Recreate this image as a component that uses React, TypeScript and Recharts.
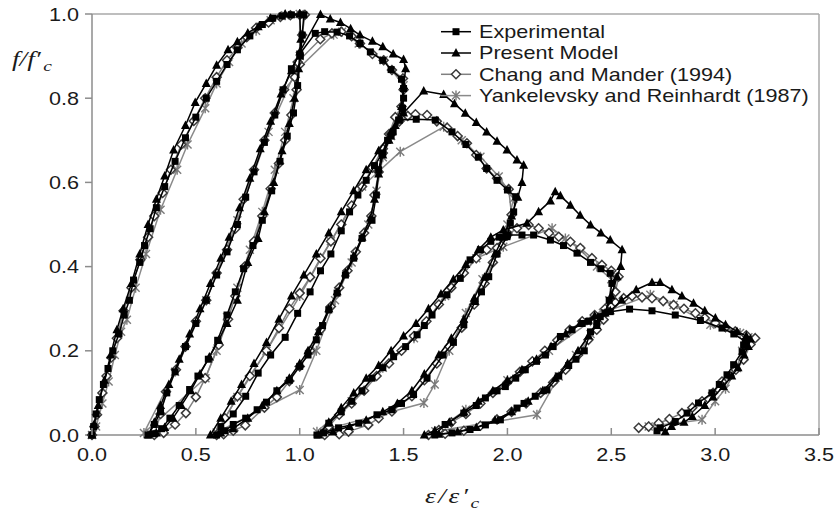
import React from "react";
import {
  ScatterChart,
  Scatter,
  XAxis,
  YAxis,
  Legend,
  ReferenceLine,
  Label,
} from "recharts";

type Pt = [number, number];

const xTicks = [0, 0.5, 1, 1.5, 2, 2.5, 3, 3.5];
const yTicks = [0, 0.2, 0.4, 0.6, 0.8, 1];

const seriesNames = [
  "Experimental",
  "Present Model",
  "Chang and Mander (1994)",
  "Yankelevsky and Reinhardt (1987)",
];

// strain ratio / stress ratio, one continuous path per curve (envelope + unload/reload cycles)
const experimental: Pt[] = [
  [0, 0], [0.008, 0.02], [0.02, 0.05], [0.035, 0.084], [0.055, 0.12], [0.077, 0.158], [0.1, 0.2], [0.13, 0.24],
  [0.155, 0.285], [0.18, 0.32], [0.2, 0.368], [0.23, 0.41], [0.253, 0.45], [0.28, 0.49], [0.31, 0.54], [0.35, 0.59],
  [0.4, 0.65], [0.45, 0.706], [0.5, 0.755], [0.55, 0.8], [0.6, 0.84], [0.65, 0.88], [0.7, 0.915], [0.76, 0.948],
  [0.82, 0.975], [0.87, 0.99], [0.915, 0.995], [0.96, 0.998], [1.02, 0.998],
  [1.012, 0.95], [1.003, 0.9], [0.99, 0.83], [0.97, 0.765], [0.94, 0.71], [0.905, 0.65], [0.865, 0.58], [0.82, 0.51],
  [0.775, 0.45], [0.73, 0.395], [0.69, 0.34], [0.65, 0.285], [0.605, 0.225], [0.56, 0.18], [0.51, 0.14], [0.47, 0.108],
  [0.42, 0.07], [0.375, 0.04], [0.335, 0.015], [0.3, 0.003], [0.27, 0],
  [0.3, 0.025], [0.33, 0.055], [0.36, 0.1], [0.4, 0.15], [0.45, 0.21], [0.5, 0.265], [0.55, 0.32], [0.6, 0.38],
  [0.65, 0.435], [0.7, 0.5], [0.74, 0.565], [0.78, 0.625], [0.83, 0.695], [0.88, 0.76], [0.92, 0.82], [0.96, 0.87],
  [1.0, 0.905], [1.075, 0.954],
  [1.12, 0.958], [1.18, 0.957], [1.24, 0.948], [1.29, 0.93], [1.34, 0.91], [1.4, 0.89], [1.44, 0.868], [1.49, 0.845], [1.5, 0.823],
  [1.5, 0.8], [1.495, 0.776], [1.476, 0.748], [1.45, 0.72], [1.423, 0.7], [1.396, 0.669], [1.38, 0.63], [1.369, 0.57],
  [1.348, 0.51], [1.3, 0.467], [1.26, 0.42], [1.22, 0.38], [1.18, 0.337], [1.14, 0.297], [1.11, 0.26], [1.08, 0.226],
  [1.04, 0.19], [1.0, 0.163], [0.95, 0.13], [0.89, 0.105], [0.84, 0.078], [0.795, 0.06], [0.74, 0.04], [0.68, 0.025],
  [0.64, 0.01], [0.6, 0],
  [0.62, 0.02], [0.68, 0.05], [0.74, 0.092], [0.8, 0.147], [0.86, 0.19], [0.93, 0.232], [0.99, 0.289], [1.05, 0.34],
  [1.1, 0.39], [1.15, 0.43], [1.2, 0.485], [1.24, 0.53], [1.28, 0.57], [1.32, 0.605], [1.36, 0.64], [1.4, 0.67],
  [1.44, 0.71], [1.48, 0.748],
  [1.561, 0.75], [1.653, 0.748], [1.733, 0.72], [1.8, 0.69], [1.86, 0.66], [1.9, 0.633], [1.95, 0.605], [2.0, 0.582], [2.04, 0.566],
  [2.03, 0.53], [2.014, 0.503], [1.998, 0.471], [1.95, 0.43], [1.91, 0.376], [1.875, 0.34], [1.845, 0.317], [1.79, 0.262],
  [1.74, 0.22], [1.69, 0.19], [1.613, 0.135], [1.548, 0.096], [1.49, 0.075], [1.444, 0.06], [1.372, 0.048], [1.284, 0.028],
  [1.187, 0.017], [1.115, 0.005], [1.083, 0],
  [1.14, 0.028], [1.2, 0.055], [1.25, 0.08], [1.3, 0.105], [1.348, 0.135], [1.4, 0.16], [1.452, 0.186], [1.51, 0.21],
  [1.565, 0.238], [1.6, 0.26], [1.637, 0.285], [1.709, 0.333], [1.773, 0.372], [1.82, 0.416], [1.87, 0.44], [1.92, 0.46],
  [1.96, 0.47], [2.0, 0.475],
  [2.07, 0.475], [2.126, 0.475], [2.207, 0.463], [2.27, 0.45], [2.335, 0.432], [2.4, 0.41], [2.45, 0.395], [2.495, 0.384], [2.503, 0.36],
  [2.49, 0.32], [2.47, 0.29], [2.43, 0.265], [2.4, 0.245], [2.37, 0.2], [2.33, 0.18], [2.295, 0.165], [2.247, 0.14],
  [2.19, 0.107], [2.134, 0.092], [2.08, 0.075], [2.046, 0.064], [1.966, 0.036], [1.894, 0.024], [1.82, 0.013], [1.733, 0.005], [1.65, 0],
  [1.7, 0.025], [1.79, 0.052], [1.85, 0.07], [1.894, 0.088], [1.95, 0.105], [1.99, 0.115], [2.04, 0.135], [2.086, 0.155],
  [2.14, 0.175], [2.183, 0.19], [2.22, 0.21], [2.255, 0.234], [2.311, 0.25], [2.36, 0.265], [2.39, 0.27], [2.447, 0.281], [2.495, 0.293],
  [2.588, 0.299], [2.696, 0.295], [2.808, 0.285], [2.929, 0.272], [3.033, 0.254], [3.09, 0.24], [3.145, 0.222],
  [3.137, 0.214], [3.13, 0.198], [3.089, 0.167], [3.057, 0.143], [3.02, 0.12], [2.985, 0.1], [2.92, 0.076], [2.865, 0.052],
  [2.808, 0.032], [2.736, 0.017], [2.72, 0.01],
];

const presentModel: Pt[] = [
  [0, 0], [0.01, 0.025], [0.03, 0.07], [0.06, 0.13], [0.09, 0.19], [0.12, 0.25], [0.15, 0.3], [0.19, 0.36], [0.23, 0.43],
  [0.27, 0.5], [0.31, 0.56], [0.35, 0.615], [0.393, 0.677], [0.45, 0.735], [0.497, 0.79], [0.55, 0.835], [0.6, 0.878],
  [0.655, 0.915], [0.7, 0.934], [0.75, 0.955], [0.8, 0.97], [0.86, 0.99], [0.93, 1.0], [1.0, 1.0],
  [1.005, 0.94], [0.995, 0.87], [0.975, 0.8], [0.95, 0.74], [0.915, 0.675], [0.875, 0.6], [0.83, 0.53], [0.8, 0.467],
  [0.75, 0.41], [0.7, 0.32], [0.65, 0.265], [0.61, 0.225], [0.565, 0.185], [0.52, 0.145], [0.475, 0.105], [0.43, 0.07],
  [0.39, 0.04], [0.35, 0.018], [0.31, 0.005], [0.27, 0],
  [0.3, 0.03], [0.33, 0.07], [0.37, 0.12], [0.42, 0.18], [0.47, 0.24], [0.52, 0.3], [0.57, 0.36], [0.62, 0.42],
  [0.66, 0.47], [0.71, 0.54], [0.76, 0.61], [0.81, 0.68], [0.86, 0.745], [0.91, 0.81], [0.96, 0.865], [1.0, 0.91], [1.1, 0.999],
  [1.147, 0.988], [1.196, 0.98], [1.245, 0.965], [1.29, 0.95], [1.35, 0.935], [1.4, 0.922], [1.45, 0.905], [1.5, 0.892], [1.51, 0.87],
  [1.5, 0.83], [1.49, 0.78], [1.46, 0.735], [1.43, 0.7], [1.4, 0.665], [1.38, 0.62], [1.36, 0.56], [1.34, 0.515],
  [1.3, 0.47], [1.26, 0.425], [1.22, 0.385], [1.18, 0.34], [1.14, 0.3], [1.09, 0.245], [1.04, 0.2], [1.0, 0.17],
  [0.95, 0.135], [0.89, 0.105], [0.82, 0.07], [0.75, 0.04], [0.68, 0.015], [0.62, 0.005], [0.57, 0],
  [0.62, 0.04], [0.67, 0.08], [0.72, 0.12], [0.78, 0.17], [0.84, 0.22], [0.9, 0.275], [0.96, 0.33], [1.02, 0.38],
  [1.08, 0.43], [1.14, 0.48], [1.2, 0.53], [1.26, 0.58], [1.32, 0.63], [1.38, 0.675], [1.44, 0.72], [1.5, 0.765], [1.597, 0.817],
  [1.693, 0.809], [1.745, 0.787], [1.797, 0.764], [1.85, 0.742], [1.9, 0.72], [1.95, 0.698], [1.998, 0.677], [2.046, 0.653], [2.078, 0.641],
  [2.07, 0.6], [2.05, 0.565], [2.02, 0.52], [1.98, 0.47], [1.94, 0.43], [1.89, 0.375], [1.84, 0.325], [1.79, 0.275],
  [1.73, 0.23], [1.67, 0.19], [1.6, 0.145], [1.54, 0.105], [1.47, 0.075], [1.4, 0.055], [1.32, 0.035], [1.24, 0.02],
  [1.16, 0.008], [1.09, 0],
  [1.14, 0.03], [1.2, 0.065], [1.26, 0.1], [1.32, 0.135], [1.38, 0.165], [1.44, 0.2], [1.5, 0.235], [1.56, 0.265],
  [1.62, 0.3], [1.68, 0.335], [1.74, 0.37], [1.8, 0.405], [1.86, 0.44], [1.92, 0.47], [1.98, 0.487], [2.094, 0.503],
  [2.15, 0.53], [2.207, 0.556], [2.23, 0.578], [2.255, 0.568], [2.303, 0.546], [2.35, 0.522], [2.4, 0.499], [2.45, 0.48],
  [2.495, 0.463], [2.552, 0.44],
  [2.545, 0.4], [2.528, 0.376], [2.5, 0.33], [2.47, 0.29], [2.43, 0.26], [2.39, 0.235], [2.34, 0.2], [2.29, 0.17],
  [2.23, 0.135], [2.17, 0.105], [2.1, 0.08], [2.02, 0.055], [1.94, 0.035], [1.85, 0.018], [1.76, 0.008], [1.67, 0.002], [1.6, 0],
  [1.65, 0.01], [1.72, 0.03], [1.79, 0.055], [1.86, 0.08], [1.93, 0.105], [2.0, 0.13], [2.07, 0.155], [2.14, 0.18],
  [2.21, 0.21], [2.28, 0.24], [2.35, 0.265], [2.42, 0.283], [2.495, 0.295], [2.55, 0.32], [2.62, 0.345], [2.696, 0.362],
  [2.735, 0.362], [2.792, 0.345], [2.84, 0.33], [2.896, 0.313], [2.95, 0.295], [3.001, 0.278], [3.05, 0.262], [3.105, 0.246],
  [3.15, 0.235], [3.17, 0.228],
  [3.16, 0.21], [3.14, 0.19], [3.11, 0.16], [3.08, 0.14], [3.04, 0.115], [2.99, 0.09], [2.95, 0.07], [2.89, 0.044],
  [2.85, 0.03], [2.79, 0.02], [2.76, 0.008],
];

const changMander: Pt[] = [
  [0, 0], [0.012, 0.02], [0.024, 0.048], [0.05, 0.1], [0.07, 0.14], [0.093, 0.184], [0.12, 0.23], [0.152, 0.295],
  [0.19, 0.35], [0.233, 0.416], [0.27, 0.47], [0.3, 0.52], [0.34, 0.575], [0.38, 0.63], [0.43, 0.69], [0.49, 0.746],
  [0.545, 0.8], [0.6, 0.85], [0.65, 0.89], [0.7, 0.92], [0.745, 0.945], [0.79, 0.967], [0.85, 0.98], [0.907, 0.993],
  [0.955, 0.997], [1.0, 0.998], [1.025, 0.998],
  [1.012, 0.95], [1.0, 0.88], [0.985, 0.82], [0.96, 0.76], [0.93, 0.7], [0.9, 0.645], [0.86, 0.585], [0.82, 0.52],
  [0.78, 0.46], [0.735, 0.4], [0.69, 0.33], [0.655, 0.275], [0.61, 0.214], [0.545, 0.135], [0.5, 0.09], [0.452, 0.052],
  [0.4, 0.025], [0.345, 0.005], [0.3, 0],
  [0.33, 0.05], [0.356, 0.103], [0.404, 0.155], [0.45, 0.21], [0.5, 0.27], [0.55, 0.32], [0.6, 0.385], [0.65, 0.44],
  [0.69, 0.49], [0.73, 0.56], [0.78, 0.63], [0.83, 0.7], [0.88, 0.765], [0.925, 0.82], [0.976, 0.85], [0.99, 0.886],
  [1.099, 0.94], [1.155, 0.954], [1.2, 0.958], [1.25, 0.947], [1.29, 0.93], [1.35, 0.905], [1.404, 0.89], [1.444, 0.867], [1.497, 0.847],
  [1.5, 0.82], [1.49, 0.78], [1.46, 0.755], [1.43, 0.715], [1.4, 0.67], [1.38, 0.625], [1.36, 0.57], [1.345, 0.52],
  [1.31, 0.48], [1.27, 0.435], [1.23, 0.39], [1.19, 0.35], [1.15, 0.305], [1.1, 0.25], [1.05, 0.2], [1.0, 0.163],
  [0.95, 0.128], [0.89, 0.09], [0.83, 0.065], [0.738, 0.023], [0.68, 0.01], [0.634, 0.002], [0.6, 0],
  [0.64, 0.04], [0.7, 0.092], [0.76, 0.14], [0.84, 0.2], [0.9, 0.254], [0.95, 0.3], [1.0, 0.337], [1.05, 0.375],
  [1.1, 0.42], [1.15, 0.46], [1.2, 0.5], [1.25, 0.545], [1.3, 0.59], [1.35, 0.635], [1.4, 0.68], [1.44, 0.715],
  [1.48, 0.745], [1.52, 0.758], [1.557, 0.762], [1.613, 0.76],
  [1.66, 0.745], [1.71, 0.73], [1.76, 0.71], [1.805, 0.693], [1.85, 0.665], [1.9, 0.633], [1.95, 0.61], [2.006, 0.584], [2.02, 0.523],
  [2.0, 0.48], [1.97, 0.45], [1.93, 0.41], [1.89, 0.36], [1.84, 0.31], [1.78, 0.255], [1.72, 0.21], [1.66, 0.17],
  [1.6, 0.13], [1.54, 0.092], [1.444, 0.056], [1.38, 0.04], [1.33, 0.024], [1.235, 0.008], [1.19, 0.002], [1.12, 0],
  [1.14, 0.02], [1.19, 0.048], [1.25, 0.075], [1.31, 0.105], [1.37, 0.14], [1.43, 0.17], [1.49, 0.2], [1.55, 0.235],
  [1.61, 0.27], [1.67, 0.31], [1.73, 0.35], [1.79, 0.385], [1.85, 0.42], [1.9, 0.44], [1.95, 0.444], [2.0, 0.475],
  [2.046, 0.491], [2.102, 0.499], [2.15, 0.491], [2.2, 0.48], [2.247, 0.471], [2.303, 0.459], [2.351, 0.444],
  [2.407, 0.42], [2.455, 0.404], [2.5, 0.39], [2.535, 0.376],
  [2.52, 0.34], [2.5, 0.305], [2.463, 0.274], [2.43, 0.25], [2.39, 0.226], [2.34, 0.19], [2.28, 0.155], [2.22, 0.125],
  [2.16, 0.1], [2.09, 0.075], [2.02, 0.055], [1.95, 0.037], [1.87, 0.022], [1.79, 0.01], [1.7, 0.003], [1.62, 0],
  [1.67, 0.012], [1.73, 0.03], [1.8, 0.05], [1.87, 0.075], [1.93, 0.1], [2.0, 0.125], [2.06, 0.15], [2.12, 0.175],
  [2.18, 0.2], [2.24, 0.225], [2.3, 0.25], [2.36, 0.27], [2.42, 0.285], [2.47, 0.3], [2.52, 0.315], [2.56, 0.325],
  [2.6, 0.33], [2.648, 0.327], [2.696, 0.325], [2.75, 0.318], [2.8, 0.309], [2.85, 0.3], [2.905, 0.289], [2.95, 0.278],
  [3.001, 0.266], [3.05, 0.256], [3.097, 0.246], [3.15, 0.237], [3.193, 0.23],
  [3.17, 0.215], [3.137, 0.179], [3.1, 0.155], [3.07, 0.14], [3.033, 0.127], [2.99, 0.1], [2.937, 0.08], [2.89, 0.065],
  [2.84, 0.052], [2.78, 0.038], [2.728, 0.028], [2.68, 0.02], [2.632, 0.017],
];

const yankelevsky: Pt[] = [
  [0, 0], [0.02, 0.02], [0.05, 0.075], [0.08, 0.127], [0.11, 0.19], [0.14, 0.245], [0.168, 0.274], [0.21, 0.35],
  [0.26, 0.43], [0.33, 0.535], [0.41, 0.63], [0.46, 0.69], [0.545, 0.776], [0.6, 0.835], [0.66, 0.886], [0.72, 0.93],
  [0.79, 0.96], [0.86, 0.985], [0.93, 0.997], [1.0, 1.0],
  [1.0, 0.9], [0.97, 0.8], [0.93, 0.72], [0.88, 0.63], [0.82, 0.53], [0.76, 0.44], [0.7, 0.35], [0.65, 0.28],
  [0.6, 0.2], [0.546, 0.135], [0.25, 0.005],
  [0.4, 0.15], [0.55, 0.32], [0.7, 0.51], [0.85, 0.72], [0.979, 0.863], [1.163, 0.951],
  [1.204, 0.958], [1.284, 0.93], [1.404, 0.89], [1.5, 0.831],
  [1.49, 0.77], [1.44, 0.71], [1.4, 0.66], [1.37, 0.58], [1.33, 0.5], [1.25, 0.41], [1.17, 0.32], [1.08, 0.2],
  [1.0, 0.107], [0.6, 0.006],
  [0.7, 0.09], [0.84, 0.2], [1.0, 0.33], [1.15, 0.46], [1.3, 0.59], [1.484, 0.673], [1.693, 0.732],
  [1.78, 0.7], [1.87, 0.661], [1.958, 0.614], [2.03, 0.562],
  [2.0, 0.5], [1.95, 0.44], [1.88, 0.37], [1.8, 0.29], [1.72, 0.2], [1.65, 0.12], [1.598, 0.076], [1.083, 0.008],
  [1.25, 0.08], [1.4, 0.16], [1.55, 0.23], [1.7, 0.33], [1.85, 0.42], [1.98, 0.447], [2.215, 0.491], [2.279, 0.467],
  [2.35, 0.44], [2.431, 0.4], [2.5, 0.37],
  [2.49, 0.32], [2.45, 0.28], [2.4, 0.24], [2.33, 0.19], [2.247, 0.139], [2.142, 0.048], [1.653, 0.009],
  [1.8, 0.06], [2.0, 0.13], [2.2, 0.2], [2.4, 0.27], [2.46, 0.29], [2.688, 0.333], [2.8, 0.309], [2.977, 0.262],
  [3.12, 0.242], [3.16, 0.232],
  [3.13, 0.2], [3.105, 0.159], [3.05, 0.11], [3.0, 0.08], [2.937, 0.036], [2.68, 0.02],
];

const AXIS = "#8c8c8c";
const FRAME = "#a8a8a8";
const TEXT = "#1a1a1a";
const SANS = "'Liberation Sans', Arial, sans-serif";
const SERIF = "'Liberation Serif', 'Times New Roman', serif";

const toPts = (a: Pt[]) => a.map(([x, y]) => ({ x, y }));

const Square = ({ cx, cy }: any) => (
  <rect x={cx - 3.5} y={cy - 3.5} width={7} height={7} fill="#000" />
);
const Triangle = ({ cx, cy }: any) => (
  <polygon points={`${cx},${cy - 5} ${cx + 4.5},${cy + 3.5} ${cx - 4.5},${cy + 3.5}`} fill="#000" />
);
const Diamond = ({ cx, cy }: any) => (
  <polygon
    points={`${cx},${cy - 4.5} ${cx + 4.5},${cy} ${cx},${cy + 4.5} ${cx - 4.5},${cy}`}
    fill="#fff"
    stroke="#3a3a3a"
    strokeWidth={1.5}
  />
);
const Star = ({ cx, cy }: any) => (
  <path
    d={`M${cx - 4},${cy - 4}L${cx + 4},${cy + 4}M${cx - 4},${cy + 4}L${cx + 4},${cy - 4}M${cx},${cy - 5}L${cx},${cy + 5}`}
    stroke="#7a7a7a"
    strokeWidth={1.4}
  />
);

const styles = [
  { color: "#000", marker: Square },
  { color: "#000", marker: Triangle },
  { color: "#808080", marker: Diamond },
  { color: "#8a8a8a", marker: Star },
];

const XTick = ({ x, y, payload }: any) => (
  <g>
    <line x1={x} x2={x} y1={y} y2={y - 7} stroke={AXIS} strokeWidth={1.5} />
    <text
      transform={`translate(${x},${y + 26}) scale(1.2,1)`}
      textAnchor="middle"
      fontSize={18}
      fontFamily={SANS}
      fill={TEXT}
    >
      {Number(payload.value).toFixed(1)}
    </text>
  </g>
);

const YTick = ({ x, y, payload }: any) => (
  <text
    transform={`translate(${x},${y + 6.5}) scale(1.2,1)`}
    textAnchor="end"
    fontSize={18}
    fontFamily={SANS}
    fill={TEXT}
  >
    {Number(payload.value).toFixed(1)}
  </text>
);

const renderLegend = () => (
  <svg width={400} height={90}>
    {seriesNames.map((name, i) => {
      const cy = 11.7 + i * 21.3;
      const M = styles[i].marker;
      return (
        <g key={name}>
          <line x1={5} x2={35} y1={cy} y2={cy} stroke={styles[i].color} strokeWidth={1.5} />
          <M cx={20} cy={cy} />
          <text
            transform={`translate(43,${cy + 6.4}) scale(1.2,1)`}
            fontSize={18}
            fontFamily={SANS}
            fill={TEXT}
          >
            {name}
          </text>
        </g>
      );
    })}
  </svg>
);

const YTitle = () => (
  <text
    transform="translate(12,66) scale(1.3,1)"
    fontFamily={SERIF}
    fontStyle="italic"
    fontSize={21}
    fill={TEXT}
  >
    f/f′<tspan fontSize={15} dy={5} dx={2}>c</tspan>
  </text>
);

const XTitle = () => (
  <text
    transform="translate(425,503) scale(1.3,1)"
    fontFamily={SERIF}
    fontStyle="italic"
    fontSize={21}
    letterSpacing={2}
    fill={TEXT}
  >
    ε/ε′<tspan fontSize={15} dy={5}>c</tspan>
  </text>
);

const series = [experimental, presentModel, changMander, yankelevsky];
const drawOrder = [3, 2, 1, 0];

export default function App() {
  return (
    <div style={{ position: "absolute", left: 0, top: 0, background: "#fff" }}>
      <ScatterChart
        width={835}
        height={513}
        margin={{ top: 14, right: 16, bottom: 48, left: 0 }}
      >
        <XAxis
          type="number"
          dataKey="x"
          domain={[0, 3.5]}
          ticks={xTicks}
          height={30}
          axisLine={{ stroke: AXIS, strokeWidth: 1.5 }}
          tickLine={false}
          tickSize={0}
          tickMargin={0}
          tick={<XTick />}
          interval={0}
        >
          <Label content={<XTitle />} />
        </XAxis>
        <YAxis
          type="number"
          dataKey="y"
          domain={[0, 1]}
          ticks={yTicks}
          width={92}
          axisLine={{ stroke: AXIS, strokeWidth: 1.5 }}
          tickLine={{ stroke: AXIS, strokeWidth: 1.5 }}
          tickSize={7}
          tickMargin={6}
          tick={<YTick />}
          interval={0}
        >
          <Label content={<YTitle />} />
        </YAxis>
        <ReferenceLine y={1} stroke={FRAME} strokeWidth={1.5} />
        <ReferenceLine x={3.5} stroke={FRAME} strokeWidth={1.5} />
        {drawOrder.map((i) => {
          const M = styles[i].marker;
          return (
            <Scatter
              key={seriesNames[i]}
              name={seriesNames[i]}
              data={toPts(series[i])}
              line={{ stroke: styles[i].color, strokeWidth: 1.5 }}
              lineType="joint"
              shape={(p: any) => <M cx={p.cx} cy={p.cy} />}
              isAnimationActive={false}
            />
          );
        })}
        <Legend
          content={renderLegend}
          layout="horizontal"
          verticalAlign="middle"
          align="center"
          wrapperStyle={{ top: 20, left: 436, width: 400, height: 90 }}
        />
      </ScatterChart>
    </div>
  );
}
